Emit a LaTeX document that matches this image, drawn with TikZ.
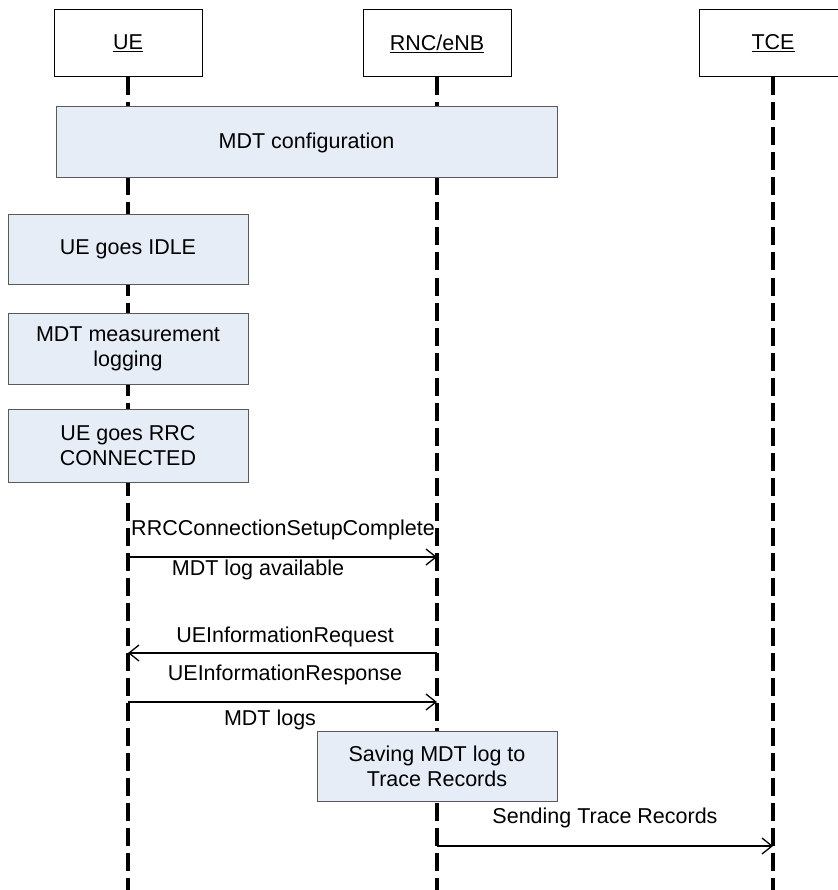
\documentclass[tikz,border=0pt]{standalone}
\usepackage{fontspec}
\setmainfont{Liberation Sans}
\usetikzlibrary{arrows.meta,positioning}
\definecolor{actfill}{RGB}{231,237,247}

\begin{document}
\begin{tikzpicture}[
    x=1pt,y=-1pt,
    entity/.style={draw, line width=1pt, minimum width=148pt, minimum height=67pt,
      inner sep=0pt, font=\fontsize{21.5}{25}\selectfont},
    action/.style={draw=black!65, line width=1pt, fill=actfill, align=center,
      inner sep=0pt, minimum width=240pt, font=\fontsize{21.5}{25}\selectfont},
    lifeline/.style={line width=3.2pt, dash pattern=on 18pt off 7pt},
    msg/.style={-{Straight Barb[length=10pt,width=16pt]}, line width=1.3pt},
    msglabel/.style={anchor=base, inner sep=0pt, font=\fontsize{21.5}{25}\selectfont}
  ]
    \useasboundingbox (0,0) rectangle (837,890);

    \node[entity] (ue) at (128,43.5) {\underline{UE}};
    \node[entity] (rnc) at (437,43.5) {\underline{RNC/eNB}};
    \node[entity] (tce) at (773,43.5) {\underline{TCE}};

    \coordinate (ue-end) at (128,890);
    \coordinate (rnc-end) at (437,890);
    \coordinate (tce-end) at (773,890);
    \draw[lifeline] (ue.south) -- (ue-end);
    \draw[lifeline] (rnc.south) -- (rnc-end);
    \draw[lifeline] (tce.south) -- (tce-end);

    \node[action, minimum width=501pt, minimum height=71pt] (config) at (306.5,142.5)
      {MDT configuration};
    \node[action, minimum height=69pt] (idle) at (128,249.5)
      {UE goes IDLE};
    \node[action, minimum height=71pt] (logging) at (128,348.5)
      {MDT measurement\\logging};
    \node[action, minimum height=73pt] (connected) at (128,445.5)
      {UE goes RRC\\CONNECTED};
    \node[action, minimum height=70pt] (saving) at (437,766)
      {Saving MDT log to\\Trace Records};

    \coordinate (setup-ue) at (128,557);
    \coordinate (setup-rnc) at (437,557);
    \coordinate (req-ue) at (128,653);
    \coordinate (req-rnc) at (437,653);
    \coordinate (resp-ue) at (128,702);
    \coordinate (resp-rnc) at (437,702);
    \coordinate (send-rnc) at (437,846);
    \coordinate (send-tce) at (773,846);

    \draw[msg] (setup-ue) -- (setup-rnc);
    \draw[msg] (req-rnc) -- (req-ue);
    \draw[msg] (resp-ue) -- (resp-rnc);
    \draw[msg] (send-rnc) -- (send-tce);

    \node[msglabel] (setup-lbl) at (283,535) {RRCConnectionSetupComplete};
    \node[msglabel] (avail-lbl) at (258,575) {MDT log available};
    \node[msglabel] (req-lbl) at (285,642) {UEInformationRequest};
    \node[msglabel] (resp-lbl) at (285,680) {UEInformationResponse};
    \node[msglabel] (logs-lbl) at (270,725) {MDT logs};
    \node[msglabel] (send-lbl) at (605,823) {Sending Trace Records};
  \end{tikzpicture}
\end{document}
